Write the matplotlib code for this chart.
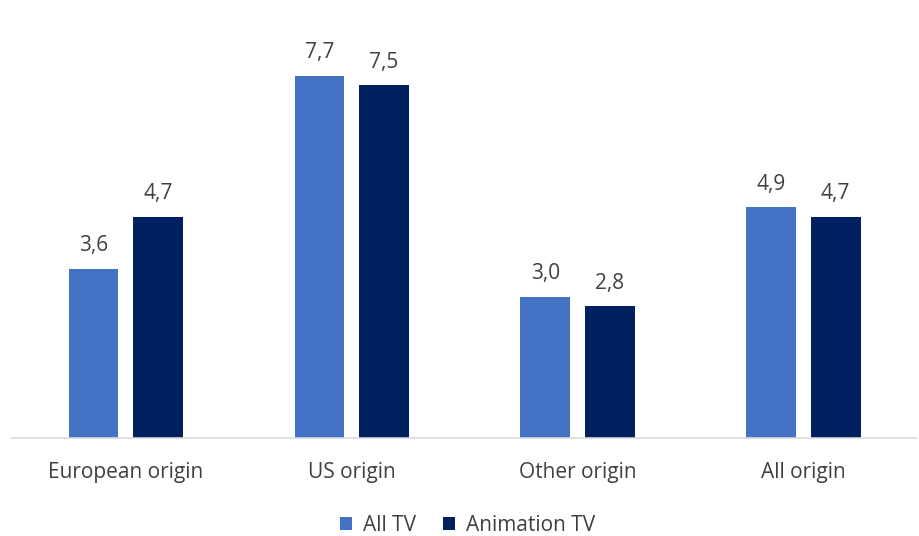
import numpy as np
import matplotlib.pyplot as plt

categories = ["European origin", "US origin", "Other origin", "All origin"]
all_tv = [3.6, 7.7, 3.0, 4.9]
animation_tv = [4.7, 7.5, 2.8, 4.7]
series_names = ["All TV", "Animation TV"]

plt.rcParams['font.family'] = ['Open Sans', 'DejaVu Sans']

fig = plt.figure(figsize=(9.2, 5.36), dpi=100)
ax = fig.add_axes([0.013, 0.183, 0.983, 0.746])

x = np.arange(len(categories))
w = 0.22
off = 0.143
b1 = ax.bar(x - off, all_tv, w, color="#4472C4", label=series_names[0])
b2 = ax.bar(x + off, animation_tv, w, color="#002060", label=series_names[1])

for bars in (b1, b2):
    for r in bars:
        ax.annotate(f"{r.get_height():.1f}".replace(".", ","),
                    (r.get_x() + r.get_width() / 2, r.get_height()),
                    xytext=(0, 9), textcoords="offset points",
                    ha="center", va="bottom", fontsize=15, color="#404040")

ax.set_xlim(-0.504, 3.5)
ax.set_ylim(0, 8.5)
ax.set_xticks(x)
ax.set_xticklabels(categories, fontsize=15, color="#404040")
ax.tick_params(axis="x", length=0, pad=17)
ax.set_yticks([])
for s in ["top", "right", "left"]:
    ax.spines[s].set_visible(False)
ax.spines["bottom"].set_color("#d9d9d9")
ax.spines["bottom"].set_linewidth(1.2)

fig.legend(loc="lower center", bbox_to_anchor=(0.508, -0.035), ncol=2, frameon=False,
           fontsize=15, labelcolor="#404040", handlelength=0.6, handleheight=0.6,
           columnspacing=1.3, handletextpad=0.5)

fig.savefig("out.png", dpi=100)
